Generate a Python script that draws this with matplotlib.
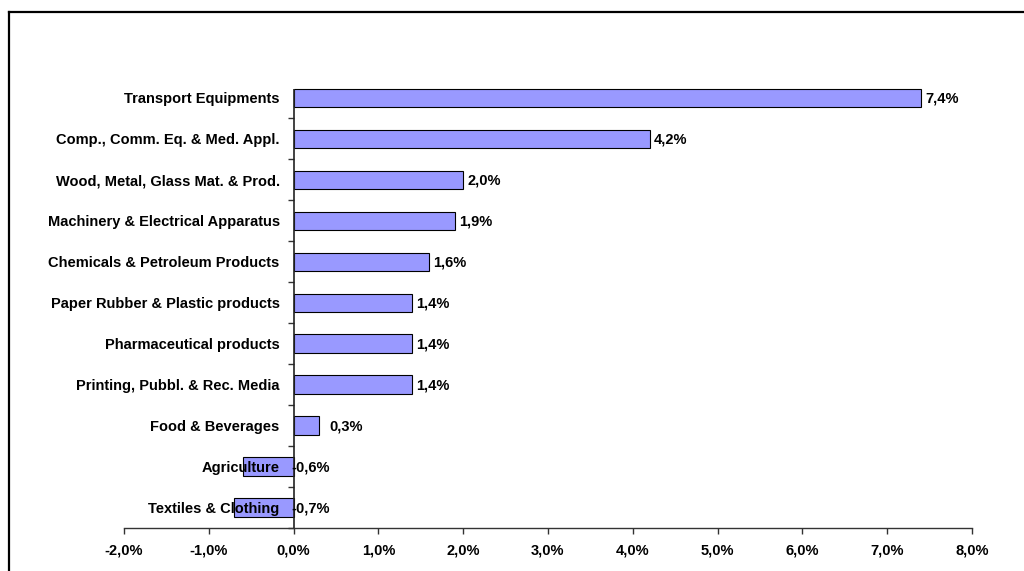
import matplotlib.pyplot as plt
from matplotlib.lines import Line2D
import numpy as np

plt.rcParams['font.family'] = ['Liberation Sans', 'DejaVu Sans']

sectors = ["Transport Equipments", "Comp., Comm. Eq. & Med. Appl.",
           "Wood, Metal, Glass Mat. & Prod.", "Machinery & Electrical Apparatus",
           "Chemicals & Petroleum Products", "Paper Rubber & Plastic products",
           "Pharmaceutical products", "Printing, Pubbl. & Rec. Media",
           "Food & Beverages", "Agriculture", "Textiles & Clothing"]
growth = [7.4, 4.2, 2.0, 1.9, 1.6, 1.4, 1.4, 1.4, 0.3, -0.6, -0.7]
xticks = [-2, -1, 0, 1, 2, 3, 4, 5, 6, 7, 8]

def pct(v):
	return ("%.1f%%" % v).replace(".", ",")

fig = plt.figure(figsize=(10.24, 5.71), dpi=100)
ax = fig.add_axes([0.1211, 0.0753, 0.828, 0.789])

# move the y axis to x=0 first (this resets the ticks)
ax.spines['left'].set_position(('data', 0))
ax.spines['left'].set_visible(False)
ax.spines['top'].set_visible(False)
ax.spines['right'].set_visible(False)
ax.spines['bottom'].set_linewidth(1.0)
ax.spines['bottom'].set_color("#333333")

n = len(sectors)
ypos = np.arange(n)[::-1]
bh = 0.45
ax.barh(ypos, growth, height=bh, color="#9999FF", edgecolor="black", linewidth=0.8, zorder=1)
ax.vlines(0, -0.5, n - 1 + bh / 2, color="#222222", lw=1.2, zorder=4)

fs = 10.5
for y, v in zip(ypos, growth):
	if v >= 0:
		# small bars get their label pushed a bit further out
		ax.text(max(v, 0.37) + 0.05, y - 0.02, pct(v), va="center", ha="left", fontsize=fs, fontweight="bold", zorder=5)
	else:
		ax.text(-0.03, y - 0.02, pct(v), va="center", ha="left", fontsize=fs, fontweight="bold", zorder=5)

ax.set_xlim(-2, 8)
ax.set_ylim(-0.5, n - 0.5)
ax.set_xticks(xticks)
ax.set_xticklabels([pct(t) for t in xticks], fontsize=fs, fontweight="bold")
ax.set_yticks(ypos)
ax.set_yticklabels(sectors, fontsize=fs, fontweight="bold", zorder=6)
ax.set_yticks(np.arange(n) - 0.5, minor=True)

ax.tick_params(axis='y', which='major', length=0, pad=10)
ax.tick_params(axis='y', which='minor', length=4, width=1.0, direction='out', color="#333333")
ax.tick_params(axis='x', length=4, width=1.0, direction='out', pad=7, color="#333333")
ax.set_axisbelow(False)

# outer frame (only top and left edges visible in the crop)
fig.add_artist(Line2D([9/1024, 1.0], [1 - 12/571, 1 - 12/571], color="black", lw=1.6, transform=fig.transFigure))
fig.add_artist(Line2D([9/1024, 9/1024], [0, 1 - 12/571], color="black", lw=1.6, transform=fig.transFigure))

fig.savefig("out.png", dpi=100)
